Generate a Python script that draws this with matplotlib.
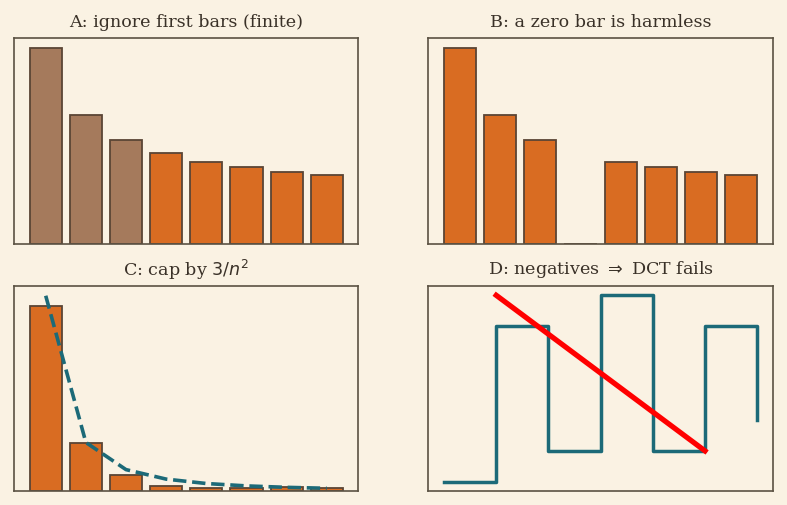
import matplotlib.pyplot as plt
import numpy as np

# data
n = [1, 2, 3, 4, 5, 6, 7, 8]
a_vals = [1.0, 0.659, 0.531, 0.463, 0.417, 0.393, 0.368, 0.353]
b_vals = [1.0, 0.659, 0.531, 0.0, 0.417, 0.393, 0.368, 0.353]
c_vals = [2.85, 0.74, 0.245, 0.077, 0.046, 0.046, 0.066, 0.046]
c_cap = [3.0, 0.75, 0.333, 0.1875, 0.12, 0.0833, 0.0612, 0.0469]
d_x = [0, 1, 2, 3, 4, 5, 6]
d_y = [0, 5, 1, 6, 1, 5, 2]
d_red_x = [1, 5]
d_red_y = [6, 1]

BG = "#faf2e3"
ORANGE = "#d96c22"
BROWN = "#a57a5c"
EDGE = "#5a4535"
SPINE = "#5b5243"
TEAL = "#1c6a78"
TXT = "#3a3128"

plt.rcParams['font.family'] = ['DejaVu Serif']

fig, axes = plt.subplots(2, 2, figsize=(7.87, 5.06), dpi=100, facecolor=BG)
plt.subplots_adjust(left=0.0178, right=0.982, top=0.922, bottom=0.027,
                    wspace=0.203, hspace=0.205)

for ax in axes.flat:
    ax.set_facecolor(BG)
    ax.set_xticks([])
    ax.set_yticks([])
    for s in ax.spines.values():
        s.set_color(SPINE)
        s.set_linewidth(1.2)

ax = axes[0, 0]
cols = [BROWN] * 3 + [ORANGE] * 5
ax.bar(n, a_vals, width=0.8, color=cols, edgecolor=EDGE, linewidth=1.3)
ax.set_title("A: ignore first bars (finite)", color=TXT, fontsize=12.6, pad=9)

ax = axes[0, 1]
ax.bar(n, b_vals, width=0.8, color=ORANGE, edgecolor=EDGE, linewidth=1.3)
ax.set_title("B: a zero bar is harmless", color=TXT, fontsize=12.6, pad=9)

ax = axes[1, 0]
ax.bar(n, c_vals, width=0.8, color=ORANGE, edgecolor=EDGE, linewidth=1.3)
ax.plot(n, c_cap, '--', color=TEAL, linewidth=2.6)
ax.set_title("C: cap by $3/n^2$", color=TXT, fontsize=12.6, pad=8)

ax = axes[1, 1]
ax.step(d_x, d_y, where='post', color=TEAL, linewidth=2.5)
ax.plot(d_red_x, d_red_y, color='red', linewidth=3.8)
ax.set_title(r"D: negatives $\Rightarrow$ DCT fails", color=TXT, fontsize=12.6, pad=9)

fig.savefig("out.png", dpi=100, facecolor=BG)
